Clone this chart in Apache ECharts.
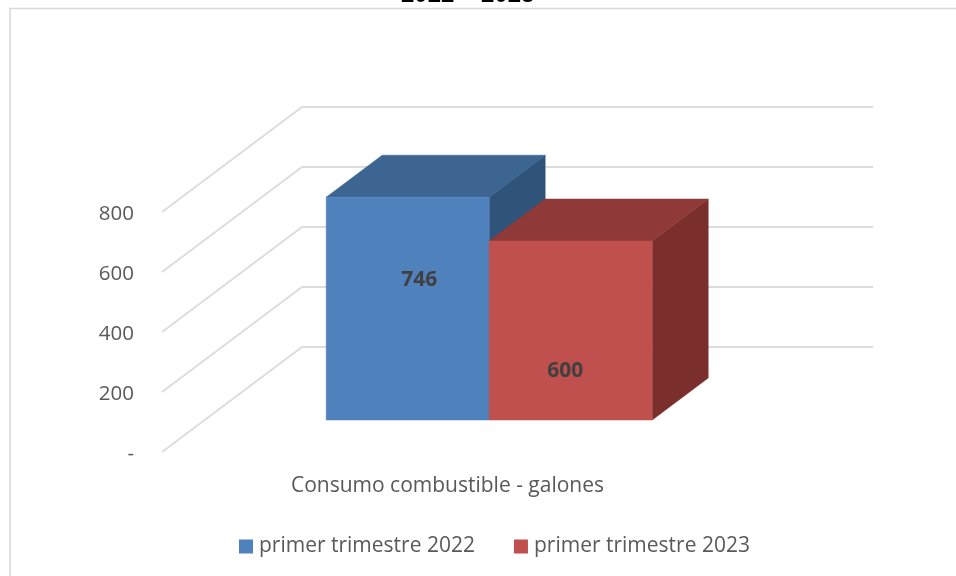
<!DOCTYPE html>
<html><head><meta charset="utf-8"><style>html,body{margin:0;padding:0;background:#fff}#c{width:956px;height:576px}</style>
<script src="https://cdn.jsdelivr.net/npm/echarts@6/dist/echarts.min.js"></script></head>
<body><div id="c"></div>
<script>
const titleText = "2022 – 2023";
const categories = ["Consumo combustible - galones"];
const seriesNames = ["primer trimestre 2022", "primer trimestre 2023"];
const values2022 = [746];
const values2023 = [600];
const yTicks = [0, 200, 400, 600, 800];

const FONT = '"Open Sans"';
const DX = 140, DY = 105;          // full floor depth on screen
const NEAR = 0.3, BAR_DEPTH = 0.4; // bar position inside the depth
const BAR_FRAC = 0.2855;           // one bar as a share of the band
const faces = [
  { front: '#4F81BD', top: '#3C6591', side: '#305379', lx: 11.5, ly: -29 },
  { front: '#C0504D', top: '#8F3A38', side: '#7B2F2D', lx: -5.5, ly: 40.5 }
];

function gridItem(params, api) {
  const p = api.coord([0, api.value(0)]);
  const cs = params.coordSys;
  const y = p[1];
  return {
    type: 'polyline',
    shape: { points: [[cs.x, y], [cs.x + DX, y - DY], [cs.x + cs.width + DX, y - DY]] },
    style: { stroke: '#DCDCDC', lineWidth: 1.8, fill: null }, silent: true
  };
}

function barItem(index) {
  return function (params, api) {
    const v = api.value(1);
    const top = api.coord([api.value(0), v]);
    const base = api.coord([api.value(0), 0]);
    const w = api.size([1, 0])[0] * BAR_FRAC;
    const ox = DX * NEAR - 0.3, oy = DY * NEAR + 0.5, bx = DX * BAR_DEPTH, by = DY * BAR_DEPTH;
    const x0 = top[0] + ox + (index - 1) * w, x1 = x0 + w;
    const yT = top[1] - oy + 1, yB = base[1] - oy;
    const f = faces[index];
    const poly = (pts, c) => ({ type: 'polygon', shape: { points: pts }, style: { fill: c, stroke: c, lineWidth: 0.5 } });
    return {
      type: 'group',
      children: [
        poly([[x1, yT], [x1 + bx, yT - by], [x1 + bx, yB - by], [x1, yB]], f.side),
        poly([[x0, yT], [x0 + bx, yT - by], [x1 + bx, yT - by], [x1, yT]], f.top),
        poly([[x0, yT], [x1, yT], [x1, yB], [x0, yB]], f.front),
        { type: 'text', x: (x0 + x1) / 2 + f.lx, y: (yT + yB) / 2 + f.ly,
          style: { text: String(v), fill: '#404040', font: 'bold 21px ' + FONT, textAlign: 'center', textVerticalAlign: 'middle' }, z2: 10 }
      ]
    };
  };
}

const chart = echarts.init(document.getElementById('c'), null, { renderer: 'canvas' });
chart.setOption({
  animation: false,
  backgroundColor: '#fff',
  title: { text: titleText, left: 401, top: -17, padding: 0,
    textStyle: { fontFamily: '"Liberation Sans"', fontWeight: 'bold', fontSize: 24, color: '#000' } },
  grid: { left: 162, right: 223, top: 212, bottom: 124 },
  legend: {
    data: seriesNames, left: 239, top: 536, padding: 0, itemWidth: 14, itemHeight: 14, itemGap: 39, icon: 'rect',
    textStyle: { fontFamily: FONT, fontSize: 21, color: '#595959', padding: [3, 0, 0, 1] }
  },
  xAxis: { type: 'category', data: categories, axisLine: { show: false }, axisTick: { show: false },
    axisLabel: { margin: 24, fontFamily: FONT, fontSize: 21, color: '#595959' } },
  yAxis: { type: 'value', min: 0, max: 800, interval: 200, splitLine: { show: false },
    axisLine: { show: false }, axisTick: { show: false },
    axisLabel: { margin: 28, fontFamily: FONT, fontSize: 20.5, color: '#595959',
      verticalAlign: 'top', lineHeight: 4,
      formatter: v => v === 0 ? '-' : String(v) } },
  graphic: [{ type: 'polyline', silent: true, z: 0,
    shape: { points: [[10, 600], [10, 8.5], [970, 8.5]] },
    style: { stroke: '#D9D9D9', lineWidth: 1.6, fill: null } }],
  series: [
    { type: 'custom', name: 'grid', silent: true, z: 1, renderItem: gridItem, data: yTicks.map(t => [t]), encode: { y: 0 } },
    { type: 'custom', name: seriesNames[0], z: 2, renderItem: barItem(0), itemStyle: { color: faces[0].front },
      data: values2022.map((v, i) => [i, v]), encode: { x: 0, y: 1 } },
    { type: 'custom', name: seriesNames[1], z: 3, renderItem: barItem(1), itemStyle: { color: faces[1].front },
      data: values2023.map((v, i) => [i, v]), encode: { x: 0, y: 1 } }
  ]
});
</script></body></html>
